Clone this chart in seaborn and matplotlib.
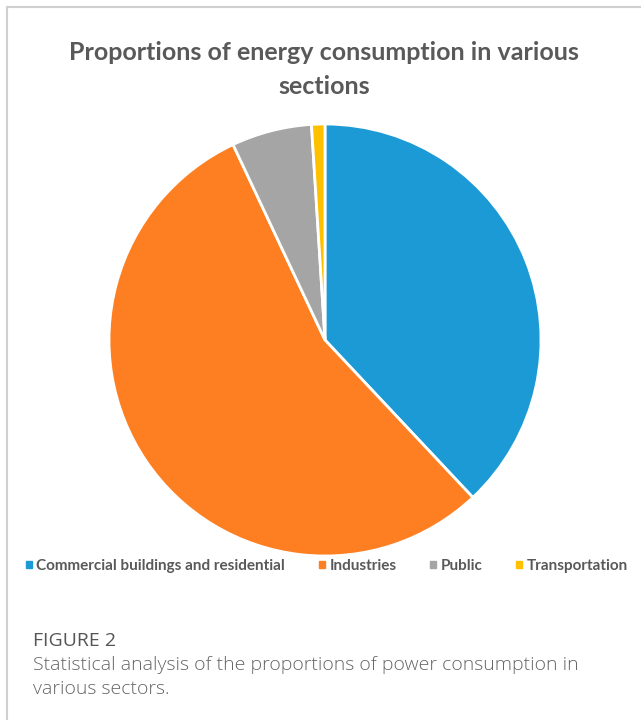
import matplotlib
matplotlib.use("Agg")
import matplotlib.pyplot as plt
from matplotlib.patches import Rectangle
from matplotlib.lines import Line2D
import seaborn as sns

# --- data ---
SECTORS = ['Commercial buildings and residential', 'Industries', 'Public', 'Transportation']
SHARES = [38.0, 55.0, 6.0, 1.0]
COLORS = ['#1b9ad6', '#fe7f22', '#a5a5a5', '#ffc000']

sns.set_theme(style="white")
plt.rcParams['font.family'] = ['Lato', 'DejaVu Sans']

fig = plt.figure(figsize=(6.41, 7.2), dpi=100)
W, H = 641, 720

# card border (left + top)
fig.add_artist(Line2D([7 / W, 7 / W], [0, 1 - 7 / H], color='#d0d0d0', lw=1.5,
                      transform=fig.transFigure))
fig.add_artist(Line2D([7 / W, 1], [1 - 7 / H, 1 - 7 / H], color='#d0d0d0', lw=1.5,
                      transform=fig.transFigure))

# pie axes: centre (325, 340), radius 216 px
r = 216
ax = fig.add_axes([(325 - r) / W, 1 - (340 + r) / H, 2 * r / W, 2 * r / H])
ax.pie(SHARES, colors=sns.color_palette(COLORS), startangle=90, counterclock=False,
       wedgeprops=dict(edgecolor='white', linewidth=2))
ax.set_xlim(-1, 1)
ax.set_ylim(-1, 1)
ax.set_aspect('equal')
ax.axis('off')

# title
fig.text(324 / W, 1 - 52 / H, 'Proportions of energy consumption in various',
         ha='center', va='center', fontsize=18, fontweight='bold', color='#595959')
fig.text(324 / W, 1 - 86 / H, 'sections',
         ha='center', va='center', fontsize=18, fontweight='bold', color='#595959')

# legend
handles = [Rectangle((0, 0), 1, 1, color=c) for c in COLORS]
leg = fig.legend(handles, SECTORS, loc='center', bbox_to_anchor=(327 / W, 1 - 566 / H),
                 ncol=4, frameon=False, fontsize=11, handlelength=0.4, handleheight=0.4,
                 handletextpad=0.3, columnspacing=2.2, labelcolor='#595959')
for t in leg.get_texts():
    t.set_fontweight('bold')

# caption
fig.text(33 / W, 1 - 641 / H, 'FIGURE 2', ha='left', va='center', fontsize=14,
         color='#555555', family=['Open Sans', 'DejaVu Sans'])
fig.text(33 / W, 1 - 665 / H, 'Statistical analysis of the proportions of power consumption in',
         ha='left', va='center', fontsize=14, color='#666666', fontweight='light',
         family=['Open Sans', 'DejaVu Sans'])
fig.text(33 / W, 1 - 689 / H, 'various sectors.', ha='left', va='center', fontsize=14,
         color='#666666', fontweight='light', family=['Open Sans', 'DejaVu Sans'])

plt.savefig('out.png', dpi=100)
print("saved out.png")
